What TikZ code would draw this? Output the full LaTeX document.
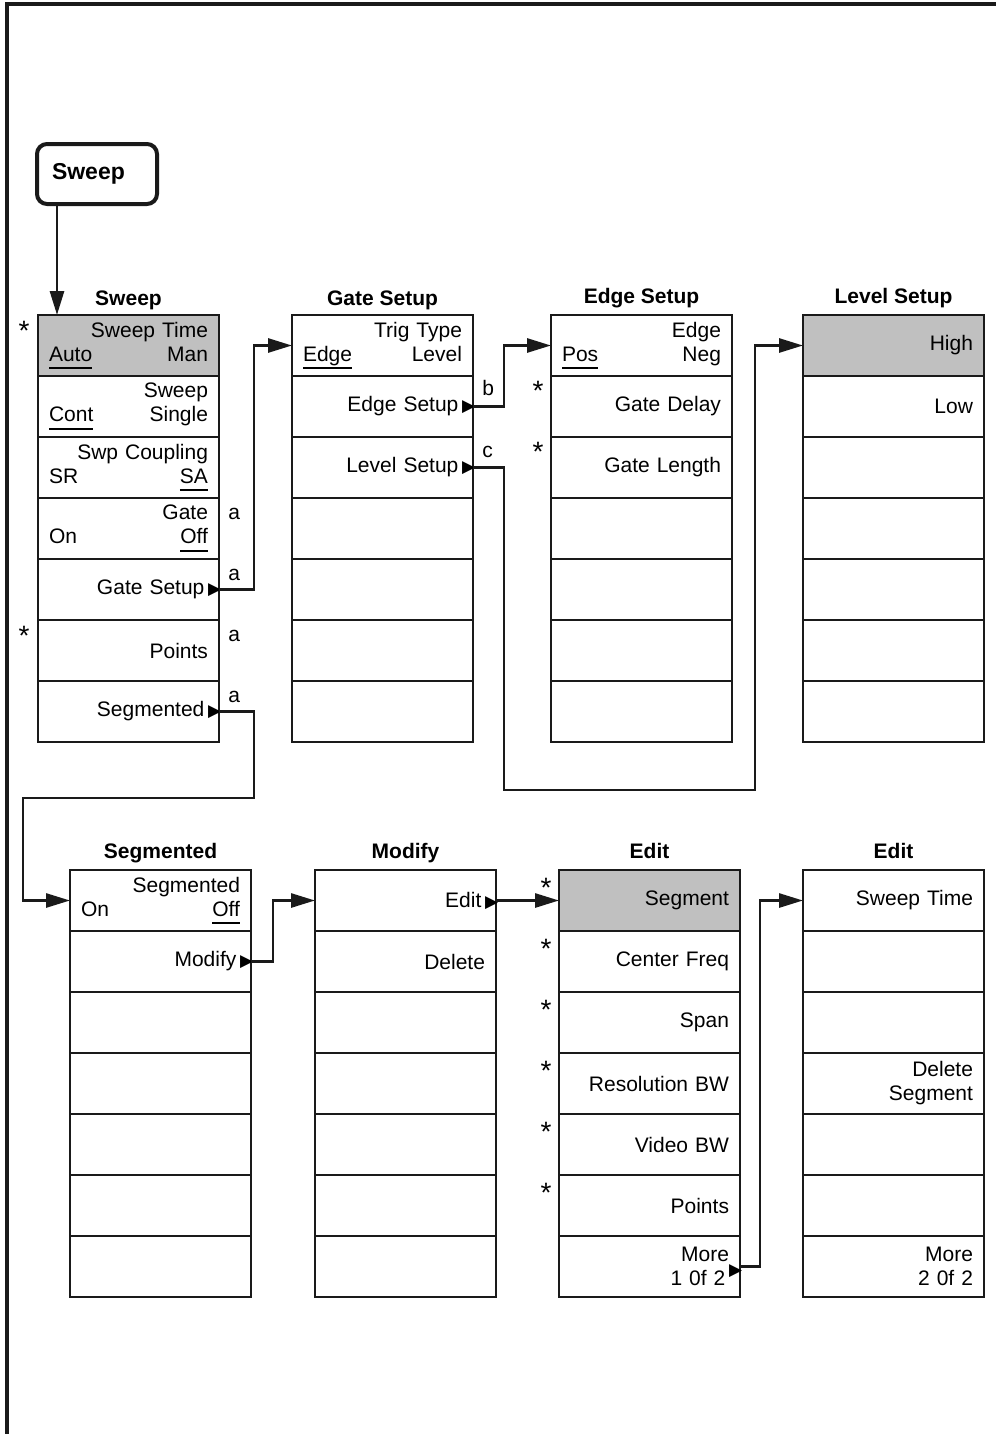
\documentclass[tikz,border=0pt]{standalone}
\usepackage{fontspec}
\setmainfont{Liberation Sans}
\newfontfamily\dvsfont{DejaVu Sans}
\usetikzlibrary{positioning,arrows.meta}
\definecolor{KeyLine}{RGB}{26,26,26}
\definecolor{KeyGray}{RGB}{192,192,192}
\newcommand{\softfont}{\fontsize{10.5}{12}\selectfont}
\newcommand{\headingfont}{\bfseries\fontsize{10.5}{12}\selectfont}
\newcommand{\sel}[1]{\leavevmode\setbox0\hbox{#1}\rlap{\rule[-4.1pt]{\wd0}{1pt}}\box0}
\newcommand{\more}{\hspace{1.8pt}\makebox[0pt][l]{{\dvsfont\fontsize{8.5}{8.5}\selectfont ▶}}}
\tikzset{
  softkey/.style={
    draw=KeyLine,
    line width=1.4pt,
    fill=white,
    minimum width=90.5pt,
    minimum height=30.5pt,
    inner sep=0pt,
    outer sep=0pt,
    text width=79.5pt,
    align=right,
    font=\softfont
  },
  activekey/.style={softkey,fill=KeyGray},
  menutitle/.style={font=\headingfont,inner sep=1pt,text depth=0pt},
  hardkey/.style={
    draw=KeyLine,
    line width=2pt,
    rounded corners=5pt,
    minimum width=60pt,
    minimum height=30pt,
    inner xsep=7.5pt,
    text width=45pt,
    align=left,
    outer sep=0pt,
    font=\bfseries\fontsize{11.5}{13}\selectfont
  },
  starnote/.style={font=\fontsize{14}{14}\selectfont,inner sep=0pt,anchor=base east},
  tagnote/.style={font=\softfont,inner sep=0pt,anchor=base west},
  link/.style={-{Triangle[length=12pt,width=7pt]},line width=1.4pt,draw=KeyLine},
  frameline/.style={line width=2pt,draw=KeyLine}
}
\begin{document}
\begin{tikzpicture}[x=0.5pt,y=-0.5pt]
  \useasboundingbox (0,0) rectangle (996,1434);
  \draw[frameline] (7,1434) -- (7,4) -- (996,4);

  % front panel key
  \node[hardkey] (key) at (97,174) {Sweep};

  % upper row of menus
  \node[activekey] (sw1) at (128.5,345.5) {Sweep Time\\\sel{Auto}\hfill Man};
  \foreach \lbl [count=\idx from 2] in {{Sweep\\\sel{Cont}\hfill Single},{Swp Coupling\\SR\hfill\sel{SA}},{Gate\\On\hfill\sel{Off}},{Gate Setup\more},{Points},{Segmented\more}}
    \node[softkey] (sw\idx) at (128.5,{345.5+61*(\idx-1)}) {\lbl};
  \node[menutitle,above=3.5pt of sw1] (swhead) {Sweep};

  \node[softkey] (gs1) at (382.5,345.5) {Trig Type\\\sel{Edge}\hfill Level};
  \foreach \lbl [count=\idx from 2] in {{Edge Setup\more},{Level Setup\more},{},{},{},{}}
    \node[softkey] (gs\idx) at (382.5,{345.5+61*(\idx-1)}) {\lbl};
  \node[menutitle,above=3.5pt of gs1] (gshead) {Gate Setup};

  \node[softkey] (es1) at (641.5,345.5) {Edge\\\sel{Pos}\hfill Neg};
  \foreach \lbl [count=\idx from 2] in {{Gate Delay},{Gate Length},{},{},{},{}}
    \node[softkey] (es\idx) at (641.5,{345.5+61*(\idx-1)}) {\lbl};
  \node[menutitle,above=4.5pt of es1] (eshead) {Edge Setup};

  \node[activekey] (ls1) at (893.5,345.5) {High};
  \foreach \lbl [count=\idx from 2] in {{Low},{},{},{},{},{}}
    \node[softkey] (ls\idx) at (893.5,{345.5+61*(\idx-1)}) {\lbl};
  \node[menutitle,above=4.5pt of ls1] (lshead) {Level Setup};

  % lower row of menus
  \node[softkey] (sg1) at (160.5,900.5) {Segmented\\On\hfill\sel{Off}};
  \foreach \lbl [count=\idx from 2] in {{Modify\more},{},{},{},{},{}}
    \node[softkey] (sg\idx) at (160.5,{900.5+61*(\idx-1)}) {\lbl};
  \node[menutitle,above=4.5pt of sg1] (sghead) {Segmented};

  \node[softkey] (md1) at (405.5,900.5) {Edit\more};
  \foreach \lbl [count=\idx from 2] in {{Delete},{},{},{},{},{}}
    \node[softkey] (md\idx) at (405.5,{900.5+61*(\idx-1)}) {\lbl};
  \node[menutitle,above=4.5pt of md1] (mdhead) {Modify};

  \node[activekey] (ed1) at (649.5,900.5) {Segment};
  \foreach \lbl [count=\idx from 2] in {{Center Freq},{Span},{Resolution BW},{Video BW},{Points},{More\\1 0f 2\raisebox{5pt}{\more}}}
    \node[softkey] (ed\idx) at (649.5,{900.5+61*(\idx-1)}) {\lbl};
  \node[menutitle,above=4.5pt of ed1] (edhead) {Edit};

  \node[softkey] (et1) at (893.5,900.5) {Sweep Time};
  \foreach \lbl [count=\idx from 2] in {{},{},{Delete\\Segment},{},{},{More\\2 0f 2}}
    \node[softkey] (et\idx) at (893.5,{900.5+61*(\idx-1)}) {\lbl};
  \node[menutitle,above=4.5pt of et1] (ethead) {Edit};

  % stars and reference letters
  \node[starnote] (st1) at ([xshift=-4pt,yshift=-12.8pt]sw1.north west) {*};
  \node[starnote] (st6) at ([xshift=-4pt,yshift=-12.8pt]sw6.north west) {*};
  \node[starnote] (es2st) at ([xshift=-3.5pt,yshift=-12.3pt]es2.north west) {*};
  \node[starnote] (es3st) at ([xshift=-3.5pt,yshift=-12.3pt]es3.north west) {*};
  \foreach \idx in {1,...,6}
    \node[starnote] (ed\idx st) at ([xshift=-3.5pt,yshift=-13.5pt]ed\idx.north west) {*};
  \foreach \idx in {4,...,7}
    \node[tagnote] (tag\idx) at ([xshift=4.5pt,yshift=-10.5pt]sw\idx.north east) {a};
  \node[tagnote] (tagb) at ([xshift=4.5pt,yshift=-9.5pt]gs2.north east) {b};
  \node[tagnote] (tagc) at ([xshift=4.5pt,yshift=-10pt]gs3.north east) {c};

  % connectors
  \coordinate (lvlturn) at (755,790);
  \coordinate (segturn) at (23,798);
  \draw[link] ([xshift=10pt]key.south west) -- ([xshift=10pt]key.south west |- sw1.north);
  \draw[link] (sw5.east) -- ++(17.5pt,0) |- (gs1.west);
  \draw[link] (gs2.east) -- ++(15.5pt,0) |- (es1.west);
  \draw[link] (gs3.east) -- ++(15.5pt,0) |- (lvlturn) |- (ls1.west);
  \draw[link] (sw7.east) -- ++(17.5pt,0) |- (segturn) |- (sg1.west);
  \draw[link] (sg2.east) -- ++(11pt,0) |- (md1.west);
  \draw[link] (md1.east) -- (ed1.west);
  \draw[link] (ed7.east) -- ++(10pt,0) |- (et1.west);
\end{tikzpicture}
\end{document}
